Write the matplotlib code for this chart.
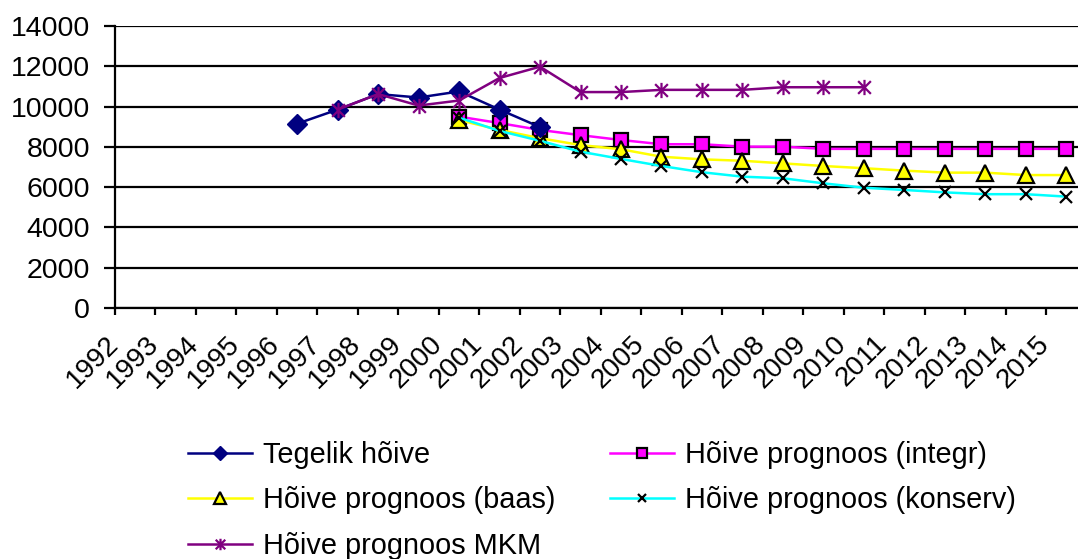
import numpy as np
import matplotlib
matplotlib.use("Agg")
import matplotlib.pyplot as plt
from matplotlib.path import Path
from matplotlib.transforms import ScaledTranslation

plt.rcParams['font.family'] = ['Liberation Sans', 'DejaVu Sans']

years = list(range(1992, 2016))
nan = np.nan

# tegelik hoive 1996-2002
tegelik = [nan]*4 + [9150, 9850, 10620, 10450, 10750, 9850, 8980] + [nan]*13
# prognoosid 2000-2015
integr = [nan]*8 + [9500, 9180, 8840, 8580, 8340, 8130, 8130, 8010, 8010,
                    7900, 7900, 7900, 7900, 7900, 7900, 7900]
baas = [nan]*8 + [9330, 8840, 8430, 8090, 7880, 7510, 7380, 7310, 7180,
                  7050, 6940, 6820, 6720, 6720, 6600, 6600]
konserv = [nan]*8 + [9450, 8790, 8300, 7760, 7400, 7050, 6740, 6520, 6440,
                     6190, 5970, 5860, 5740, 5650, 5650, 5530]
# MKM 1997-2010
mkm = [nan]*5 + [9850, 10620, 10050, 10300, 11420, 11980, 10720, 10720,
                 10830, 10830, 10830, 10960, 10960, 10960] + [nan]*5

labels = ["Tegelik hõive", "Hõive prognoos (integr)", "Hõive prognoos (baas)",
          "Hõive prognoos (konserv)", "Hõive prognoos MKM"]

# excel-like asterisk: x plus vertical bar
star = Path([(-1, -1), (1, 1), (-1, 1), (1, -1), (0, -1.2), (0, 1.2)],
            [Path.MOVETO, Path.LINETO, Path.MOVETO, Path.LINETO, Path.MOVETO, Path.LINETO])

fig = plt.figure(figsize=(10.78, 5.59), dpi=100)
ax = fig.add_axes([115/1078, 1-308/559, 24*40.48/1078, 282/559])

x = np.arange(len(years))
fs = 20.5

h1, = ax.plot(x, tegelik, color='#000080', lw=1.8, marker='D', ms=10,
              mfc='#000080', mec='#000080', zorder=5)
h2, = ax.plot(x, integr, color='#FF00FF', lw=1.8, marker='s', ms=9.5,
              mfc='#FF00FF', mec='black', mew=1.6, zorder=4)
h3, = ax.plot(x, baas, color='#FFFF00', lw=1.8, marker='^', ms=11,
              mfc='#FFFF00', mec='black', mew=1.6, zorder=4)
h4, = ax.plot(x, konserv, color='#00FFFF', lw=1.8, marker='x', ms=8,
              mec='black', mew=1.6, zorder=4)
h5, = ax.plot(x, mkm, color='#800080', lw=1.8, marker=star, ms=11,
              mfc='none', mec='#800080', mew=1.6, zorder=5)

ax.set_xlim(-0.5, 23.5)
ax.set_ylim(0, 14000)
ax.set_yticks(range(0, 14001, 2000))
ax.yaxis.grid(True, color='black', lw=1.6)
ax.set_axisbelow(True)

for s in ['top', 'right']:
    ax.spines[s].set_visible(False)
for s in ['left', 'bottom']:
    ax.spines[s].set_linewidth(1.6)

ax.tick_params(axis='y', length=8, width=1.6, pad=10, labelsize=fs)
ax.set_xticks(x, [str(y) for y in years], rotation=45, ha='right',
              va='center', rotation_mode='anchor', fontsize=20,
              family=['Liberation Sans Narrow', 'Liberation Sans'])
ax.set_xticks(np.arange(-0.5, 23.6, 1), minor=True)
ax.tick_params(axis='x', which='major', length=0, pad=23)
ax.tick_params(axis='x', which='minor', length=5, width=1.6)
off = ScaledTranslation(-21/100, 0, fig.dpi_scale_trans)
for lab in ax.get_xticklabels():
    lab.set_transform(lab.get_transform() + off)

# row-wise order like excel: col1 = 1,3,5 ; col2 = 2,4
order = [0, 2, 4, 1, 3]
hs = [h1, h2, h3, h4, h5]
fig.legend([hs[i] for i in order], [labels[i] for i in order], loc='upper left',
           bbox_to_anchor=(188/1078, 1-441/559), ncol=2, frameon=False,
           fontsize=20.8, borderpad=0, borderaxespad=0, handlelength=2.2,
           handletextpad=0.4, columnspacing=1.9, labelspacing=0.6,
           markerscale=0.75)

fig.savefig("out.png", dpi=100)
